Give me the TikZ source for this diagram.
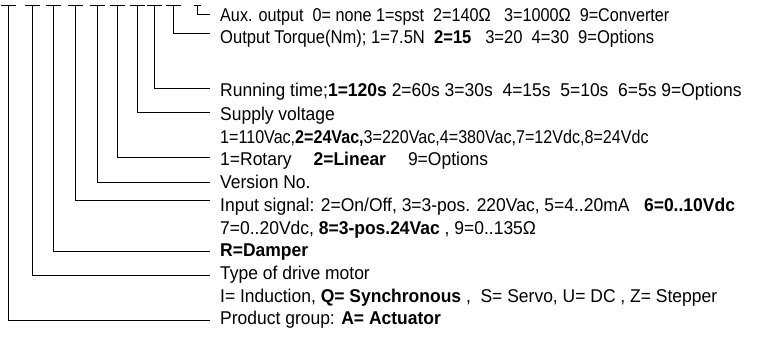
\documentclass[tikz,border=0pt]{standalone}
\usepackage{fontspec}
\setmainfont{Liberation Sans}[FakeStretch=0.945]
\newcommand{\narrowto}[1]{\addfontfeature{FakeStretch=#1}}
\begin{document}
\begin{tikzpicture}[x=1pt,y=-1pt,
  wire/.style={line width=0.9pt,black},
  lbl/.style={anchor=base west,inner sep=0pt,font=\fontsize{18.5}{20}\selectfont}]
\useasboundingbox (0,0) rectangle (760,338);
% text nodes
\node[lbl] (aux) at (220,21.5) {\narrowto{0.875}Aux. output\ \ 0= none 1=spst\ \ 2=140Ω\ \ \ 3=1000Ω\ \ 9=Converter};
\node[lbl] (trq) at (220,43.5) {\narrowto{0.895}Output Torque(Nm); 1=7.5N\ \ \textbf{2=15}\ \ \ 3=20\ \ 4=30\ \ 9=Options};
\node[lbl] (run) at (220,96.5) {Running time;\textbf{1=120s} 2=60s 3=30s\ \ 4=15s\ \ 5=10s\ \ 6=5s 9=Options};
\node[lbl] (sup) at (220,120.5) {Supply voltage};
\node[lbl] (supv) at (220,143.2) {\narrowto{0.87}1=110Vac,\textbf{2=24Vac,}3=220Vac,4=380Vac,7=12Vdc,8=24Vdc};
\node[lbl] (rot) at (220,165.9) {1=Rotary\hspace{22pt}\textbf{2=Linear}\hspace{22pt}9=Options};
\node[lbl] (ver) at (220,188.6) {Version No.};
\node[lbl] (inp) at (220,211.3) {Input signal: 2=On/Off, 3=3-pos. 220Vac, 5=4..20mA\ \ \ \textbf{6=0..10Vdc}};
\node[lbl] (inpv) at (220,234) {7=0..20Vdc, \textbf{8=3-pos.24Vac} , 9=0..135Ω};
\node[lbl] (dmp) at (220,256.7) {\textbf{R=Damper}};
\node[lbl] (typ) at (220,279.4) {Type of drive motor};
\node[lbl] (typv) at (220,302.1) {I= Induction, \textbf{Q= Synchronous} ,\ \ S= Servo, U= DC , Z= Stepper};
\node[lbl] (prd) at (220,324.8) {Product group: \textbf{A= Actuator}};
% tops of the leader lines
\foreach \n/\x in {t1/8,t2/32,t3/53,t4/75,t5/97,t6/117,t7/137,t8/154,t9/173}{
  \coordinate (\n) at (\x,5);
  \draw[wire] ([xshift=-7.5pt]\n) -- ([xshift=7.5pt]\n);
}
\coordinate (t10) at (197,5);
\draw[wire] ([xshift=-3pt]t10) -- ([xshift=4pt]t10);
% leaders
\draw[wire] (t10) |- ([xshift=-10pt,yshift=7.5pt]aux.base west);
\draw[wire] (t9) |- ([xshift=-10pt,yshift=10.5pt]trq.base west);
\draw[wire] (t8) |- ([xshift=-10pt,yshift=8.5pt]run.base west);
\draw[wire] (t7) |- ([xshift=-10pt,yshift=8.5pt]sup.base west);
\draw[wire] (t6) |- ([xshift=-10pt,yshift=8.5pt]rot.base west);
\draw[wire] (t5) |- ([xshift=-10pt,yshift=6.5pt]ver.base west);
\draw[wire] (t4) |- ([xshift=-10pt,yshift=10.5pt]inp.base west);
\draw[wire] (t3) |- ([xshift=-10pt,yshift=5.5pt]dmp.base west);
\draw[wire] (t2) |- ([xshift=-10pt,yshift=3.5pt]typ.base west);
\draw[wire] (t1) |- ([xshift=-10pt,yshift=4.5pt]prd.base west);
\end{tikzpicture}
\end{document}
